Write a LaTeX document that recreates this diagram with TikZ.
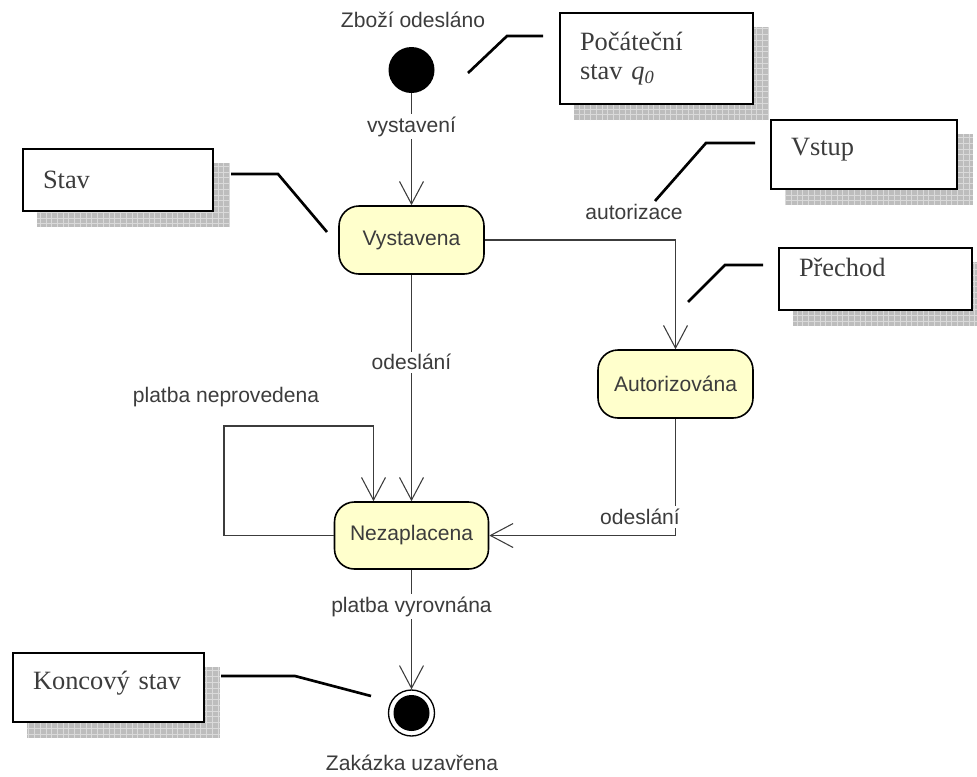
\documentclass[tikz,border=0pt]{standalone}
\usepackage{fontspec}
\setmainfont{Liberation Serif}
\setsansfont{Liberation Sans}
\usetikzlibrary{arrows.meta,backgrounds}

\definecolor{statefill}{HTML}{FFFFCC}
\definecolor{ink}{HTML}{3C3C3C}
\definecolor{shadowgrey}{HTML}{BDBDBD}
\definecolor{shadowline}{HTML}{DADADA}

\tikzset{
  state/.style={draw=black, line width=1.2pt, fill=statefill, rounded corners=15pt,
    font=\sffamily\fontsize{15.8}{18}\selectfont, text=ink, inner sep=0pt},
  trans/.style={draw=ink, line width=0.8pt,
    -{Straight Barb[length=17pt,width=18pt,line width=0.8pt]}},
  lbl/.style={font=\sffamily\fontsize{15.8}{18}\selectfont, text=ink, inner sep=1pt},
  onlbl/.style={lbl, fill=white, inner sep=2pt},
  note/.style={draw=black, line width=2pt, fill=white, align=left, inner xsep=15pt,
    inner ysep=0pt, font=\fontsize{19.8}{21.75}\selectfont, text=ink},
  leader/.style={draw=black, line width=2pt},
  pseudo/.style={circle, fill=black, minimum size=34.5pt, inner sep=0pt},
}

\begin{document}
\begin{tikzpicture}[x=0.75pt, y=-0.75pt]
\useasboundingbox (0,0) rectangle (977,776);
\clip (0,0) rectangle (977,776);

% ---- states ----
\node[pseudo] (init) at (411.5,70) {};
\node[state, minimum width=108.75pt, minimum height=51pt] (vyst) at (411.5,240) {Vystavena};
\node[state, minimum width=116.25pt, minimum height=51pt] (auto) at (675.5,384) {Autorizována};
\node[state, minimum width=115.5pt, minimum height=50.25pt] (nez) at (411.5,535.5) {Nezaplacena};
\node[circle, draw=black, line width=1pt, fill=white, minimum size=34.5pt, inner sep=0pt] (final) at (411.5,713) {};
\node[circle, fill=black, minimum size=27pt, inner sep=0pt] (finaldot) at (final) {};

% ---- transitions ----
\draw[trans] (init) -- (vyst) node[onlbl, pos=0.3] (lvyst) {vystavení};
\draw[trans] (vyst.east) -| (auto.north);
\draw[trans] (vyst) -- (nez) node[onlbl, pos=0.386] (lodes1) {odeslání};
\draw[trans] (auto.south) |- (nez.east);
\coordinate (loopcorner) at (224,426);
\draw[trans] (nez.west) -| (loopcorner) -| ([xshift=-28.5pt]nez.north);
\draw[trans] (nez) -- (final) node[onlbl, pos=0.31] (lplatba) {platba vyrovnána};

% ---- free labels ----
\node[lbl] (lstart) at (413,20) {Zboží odesláno};
\node[lbl] (lauto) at (634,212) {autorizace};
\node[lbl] (lloop) at (226,397) {platba neprovedena};
\node[onlbl] (lodes2) at (640,517) {odeslání};
\node[lbl] (lend) at (412,763) {Zakázka uzavřena};

% ---- notes ----
\node[note, text width=114.75pt, minimum height=68.25pt] (q0note) at (656.5,58.5)
  {Počáteční\\stav \textit{q}\textsubscript{\textit{0}}};
\node[note, text width=112.5pt, minimum height=46.5pt] (stavnote) at (118,180) {Stav};
\node[note, text width=109.5pt, minimum height=51.75pt, text depth=11pt] (vstupnote) at (864,154.5) {Vstup};
\node[note, text width=114.75pt, minimum height=46.5pt, text depth=17.5pt] (prechnote) at (875.5,279) {Přechod};
\node[note, text width=113.25pt, minimum height=51.75pt, text depth=11pt] (endnote) at (108.5,687.5) {Koncový stav};

\begin{scope}[on background layer]
  \foreach \n in {q0note,stavnote,vstupnote,prechnote,endnote} {
    \fill[shadowgrey] ([shift={(15,15)}]\n.north west) rectangle ([shift={(15,15)}]\n.south east);
    \draw[shadowline, line width=0.5pt, step=4.3pt]
      ([shift={(15,15)}]\n.north west) grid ([shift={(15,15)}]\n.south east);
  }
\end{scope}

% ---- note leaders ----
\coordinate (q0a) at (543,36);   \coordinate (q0b) at (507,36);   \coordinate (q0c) at (468,73);
\coordinate (sta) at (231,174);  \coordinate (stb) at (278,174);  \coordinate (stc) at (327,232);
\coordinate (vsa) at (755,143);  \coordinate (vsb) at (706,143);  \coordinate (vsc) at (655,201);
\coordinate (pra) at (763,265);  \coordinate (prb) at (725,265);  \coordinate (prc) at (688,302);
\coordinate (ena) at (221,676);  \coordinate (enb) at (295,676);  \coordinate (enc) at (371,696);
\draw[leader] (q0a) -- (q0b) -- (q0c);
\draw[leader] (sta) -- (stb) -- (stc);
\draw[leader] (vsa) -- (vsb) -- (vsc);
\draw[leader] (pra) -- (prb) -- (prc);
\draw[leader] (ena) -- (enb) -- (enc);
\end{tikzpicture}
\end{document}
